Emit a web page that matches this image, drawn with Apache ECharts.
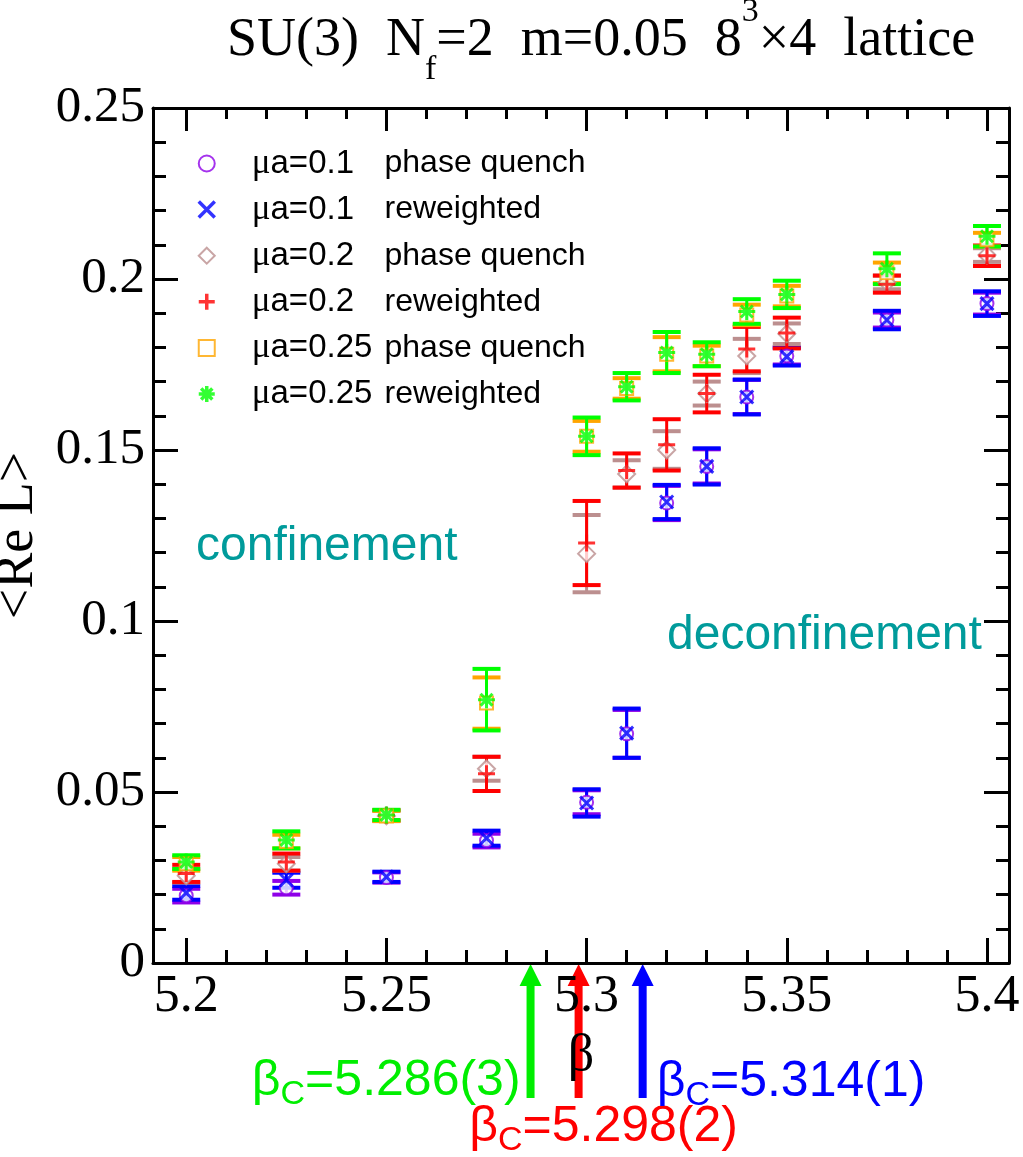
<!DOCTYPE html>
<html>
<head>
<meta charset="utf-8">
<script src="https://cdn.jsdelivr.net/npm/echarts@6/dist/echarts.min.js"></script>
<style>
html, body { margin: 0; padding: 0; background: #ffffff; }
#chart { width: 1023px; height: 1157px; }
</style>
</head>
<body>
<div id="chart"></div>
<script>
// Lattice coupling values
const beta = [5.2, 5.225, 5.25, 5.275, 5.3, 5.31, 5.32, 5.33, 5.34, 5.35, 5.375, 5.4];

// <Re L> and its errors, mu*a = 0.1
const pq01    = [0.0197, 0.0220, 0.0250, 0.0358, 0.0470, 0.0670, 0.1345, 0.1452, 0.1655, 0.1775, 0.1880, 0.1928];
const pq01Err = [0.0020, 0.0020, 0.0015, 0.0020, 0.0035, 0.0070, 0.0050, 0.0050, 0.0050, 0.0025, 0.0022, 0.0032];
const rw01    = [0.0205, 0.0242, 0.0252, 0.0365, 0.0468, 0.0672, 0.1348, 0.1452, 0.1655, 0.1773, 0.1880, 0.1928];
const rw01Err = [0.0020, 0.0022, 0.0015, 0.0022, 0.0040, 0.0072, 0.0050, 0.0053, 0.0051, 0.0026, 0.0027, 0.0036];

// mu*a = 0.2
const pq02    = [0.0255, 0.0290, 0.0430, 0.0568, 0.1197, 0.1430, 0.1500, 0.1665, 0.1775, 0.1840, 0.1990, 0.2070];
const pq02Err = [0.0020, 0.0020, 0.0015, 0.0035, 0.0113, 0.0040, 0.0055, 0.0035, 0.0050, 0.0030, 0.0020, 0.0020];
const rw02    = [0.0262, 0.0295, 0.0432, 0.0553, 0.1228, 0.1440, 0.1515, 0.1665, 0.1795, 0.1842, 0.1985, 0.2068];
const rw02Err = [0.0025, 0.0025, 0.0015, 0.0050, 0.0123, 0.0050, 0.0075, 0.0055, 0.0065, 0.0045, 0.0025, 0.0030];

// mu*a = 0.25
const pq025    = [0.0290, 0.0355, 0.0430, 0.0760, 0.1540, 0.1680, 0.1780, 0.1775, 0.1895, 0.1950, 0.2018, 0.2115];
const pq025Err = [0.0020, 0.0020, 0.0015, 0.0075, 0.0045, 0.0030, 0.0050, 0.0030, 0.0030, 0.0030, 0.0030, 0.0020];
const rw025    = [0.0295, 0.0360, 0.0433, 0.0770, 0.1540, 0.1685, 0.1785, 0.1780, 0.1905, 0.1955, 0.2030, 0.2125];
const rw025Err = [0.0020, 0.0025, 0.0015, 0.0090, 0.0055, 0.0040, 0.0060, 0.0035, 0.0036, 0.0040, 0.0045, 0.0030];

// Axis ticks
const xMajorTicks = [5.2, 5.25, 5.3, 5.35, 5.4];
const xMinorTicks = [5.2, 5.21, 5.22, 5.23, 5.24, 5.25, 5.26, 5.27, 5.28, 5.29, 5.3,
                     5.31, 5.32, 5.33, 5.34, 5.35, 5.36, 5.37, 5.38, 5.39, 5.4];
const yTicks = [0, 0.05, 0.1, 0.15, 0.2, 0.25];

// Critical couplings
const criticalBeta   = [5.286, 5.298, 5.314];
const criticalText   = ['5.286(3)', '5.298(2)', '5.314(1)'];
const criticalColors = ['#00ee00', '#ff0000', '#0000ff'];

const SERIF = '"Liberation Serif", "Times New Roman", serif';
const SANS = '"Liberation Sans", Arial, sans-serif';

const PATH_X = 'path://M0,0L10,10M10,0L0,10';
const PATH_PLUS = 'path://M5,0L5,10M0,5L10,5';
const PATH_STAR = 'path://M5,0L5,10M0,5L10,5M1.5,1.5L8.5,8.5M8.5,1.5L1.5,8.5';

const groups = [
  { name: 'μa=0.1 phase quench',  color: '#8f00e8', symbol: 'emptyCircle',  size: 13, ys: pq01,  es: pq01Err },
  { name: 'μa=0.1 reweighted',    color: '#0000ff', symbol: PATH_X,         size: 13, ys: rw01,  es: rw01Err },
  { name: 'μa=0.2 phase quench',  color: '#bc8f8f', symbol: 'emptyDiamond', size: 17, ys: pq02,  es: pq02Err },
  { name: 'μa=0.2 reweighted',    color: '#ff0000', symbol: PATH_PLUS,      size: 17, ys: rw02,  es: rw02Err },
  { name: 'μa=0.25 phase quench', color: '#ffa500', symbol: 'emptyRect',    size: 13, ys: pq025, es: pq025Err },
  { name: 'μa=0.25 reweighted',   color: '#00ff00', symbol: PATH_STAR,      size: 17, ys: rw025, es: rw025Err }
];

function errorBarSeries(g) {
  return {
    type: 'custom',
    name: g.name + ' (error)',
    xAxisIndex: 0,
    yAxisIndex: 0,
    silent: true,
    encode: { x: 0, y: [1, 2] },
    data: beta.map((b, i) => [b, g.ys[i] - g.es[i], g.ys[i] + g.es[i]]),
    renderItem: function (params, api) {
      const x = api.value(0);
      const lo = api.coord([x, api.value(1)]);
      const hi = api.coord([x, api.value(2)]);
      const hw = 14;
      return {
        type: 'group',
        children: [
          { type: 'line', shape: { x1: lo[0], y1: lo[1], x2: hi[0], y2: hi[1] },
            style: { stroke: g.color, lineWidth: 3 } },
          { type: 'line', shape: { x1: lo[0] - hw, y1: lo[1], x2: lo[0] + hw, y2: lo[1] },
            style: { stroke: g.color, lineWidth: 4 } },
          { type: 'line', shape: { x1: hi[0] - hw, y1: hi[1], x2: hi[0] + hw, y2: hi[1] },
            style: { stroke: g.color, lineWidth: 4 } }
        ]
      };
    }
  };
}

function markerSeries(g) {
  return {
    type: 'scatter',
    name: g.name,
    xAxisIndex: 0,
    yAxisIndex: 0,
    symbol: g.symbol,
    symbolSize: g.size,
    itemStyle: { color: g.color, borderColor: g.color, borderWidth: 3 },
    emphasis: { disabled: true },
    data: beta.map((b, i) => [b, g.ys[i]])
  };
}

const series = [];
groups.forEach(g => { series.push(errorBarSeries(g)); series.push(markerSeries(g)); });

const axisLineStyle = { color: '#000', width: 3 };

function xAxisDef(position, ticks, len, showLine, showLabel) {
  return {
    type: 'value',
    position: position,
    min: 5.1917,
    max: 5.4055,
    axisLine: { show: showLine, onZero: false, lineStyle: axisLineStyle },
    axisTick: { show: true, inside: true, length: len, customValues: ticks,
                lineStyle: { color: '#000', width: 3 } },
    axisLabel: showLabel
      ? { show: true, customValues: xMajorTicks, fontFamily: SERIF, fontSize: 52, color: '#000', margin: 8 }
      : { show: false },
    splitLine: { show: false }
  };
}

function yAxisDef(position, showLabel) {
  return {
    type: 'value',
    position: position,
    min: yTicks[0],
    max: yTicks[yTicks.length - 1],
    interval: 0.05,
    axisLine: { show: true, onZero: false, lineStyle: axisLineStyle },
    axisTick: { show: true, inside: true, length: 25, lineStyle: { color: '#000', width: 3 } },
    minorTick: { show: true, splitNumber: 5, length: 13, lineStyle: { color: '#000', width: 3 } },
    axisLabel: showLabel
      ? { show: true, fontFamily: SERIF, fontSize: 51, color: '#000', margin: 8 }
      : { show: false },
    splitLine: { show: false },
    minorSplitLine: { show: false }
  };
}

const xAxes = [
  Object.assign(xAxisDef('bottom', xMajorTicks, 25, true, true), {
    name: 'β', nameLocation: 'middle', nameGap: 67,
    nameTextStyle: { fontFamily: SERIF, fontSize: 52, color: '#000' }
  }),
  xAxisDef('bottom', xMinorTicks, 13, false, false),
  xAxisDef('top', xMajorTicks, 23, true, false),
  xAxisDef('top', xMinorTicks, 11, false, false)
];

const yAxes = [
  Object.assign(yAxisDef('left', true), {
    name: '<Re L>', nameLocation: 'middle', nameGap: 94, nameRotate: 90,
    nameTextStyle: { fontFamily: SERIF, fontSize: 54, color: '#000' }
  }),
  yAxisDef('right', false)
];

const chart = echarts.init(document.getElementById('chart'), null, { renderer: 'canvas' });

chart.setOption({
  backgroundColor: '#ffffff',
  animation: false,
  title: {
    left: 222,
    top: -10,
    text: '{n|SU(3)  N}{sub|f}{n|=2  m=0.05  8}{sup|3}{n|×4  lattice}',
    textStyle: {
      rich: {
        n:   { fontFamily: SERIF, fontWeight: 'normal', fontSize: 54, color: '#000', lineHeight: 92, verticalAlign: 'middle' },
        sub: { fontFamily: SERIF, fontWeight: 'normal', fontSize: 34, color: '#000', lineHeight: 34, verticalAlign: 'bottom' },
        sup: { fontFamily: SERIF, fontWeight: 'normal', fontSize: 34, color: '#000', lineHeight: 34, verticalAlign: 'top' }
      }
    }
  },
  grid: { left: 153, right: 14, top: 108, bottom: 194, containLabel: false, outerBoundsMode: 'none' },
  xAxis: xAxes,
  yAxis: yAxes,
  legend: {
    orient: 'vertical',
    left: 192,
    top: 141,
    itemWidth: 16,
    itemHeight: 16,
    itemGap: 11.1,
    selectedMode: false,
    data: groups.map(g => ({ name: g.name, itemStyle: { borderWidth: 3.5, borderColor: g.color } })),
    formatter: function (name) {
      const sp = name.indexOf(' ');
      const head = name.slice(0, sp);
      const tail = name.slice(sp + 1);
      return '{m|μ}{a|' + head.slice(1) + '}{b|' + tail + '}';
    },
    textStyle: {
      rich: {
        m: { fontFamily: SERIF, fontSize: 35, color: '#000', lineHeight: 38, padding: [0, 0, 0, 32] },
        a: { fontFamily: SANS, fontSize: 33, color: '#000', width: 114, lineHeight: 38 },
        b: { fontFamily: SANS, fontSize: 32, color: '#000', lineHeight: 38 }
      }
    }
  },
  series: series
});

// Region labels and critical-coupling arrows beneath the beta axis
function drawAnnotations() {
  const elements = [
    { type: 'text', left: 196, top: 523,
      style: { text: 'confinement', fill: '#009b9b', font: '48px ' + SANS } },
    { type: 'text', left: 667, top: 612,
      style: { text: 'deconfinement', fill: '#009b9b', font: '48px ' + SANS } }
  ];
  const labelPos = [
    { anchor: 'right', dx: -10, top: 1050 },
    { anchor: 'center', dx: 25, top: 1096 },
    { anchor: 'left', dx: 14, top: 1051 }
  ];
  criticalBeta.forEach((b, i) => {
    const tip = chart.convertToPixel({ xAxisIndex: 0, yAxisIndex: 0 }, [b, 0]);
    const x = tip[0], y = tip[1] + 1;
    const c = criticalColors[i];
    elements.push({
      type: 'polygon',
      shape: { points: [[x, y], [x + 11, y + 22], [x + 4, y + 22], [x + 4, y + 134],
                        [x - 4, y + 134], [x - 4, y + 22], [x - 11, y + 22]] },
      style: { fill: c }
    });
    const lp = labelPos[i];
    elements.push({
      type: 'text',
      x: x + lp.dx,
      y: lp.top,
      style: {
        text: '{b|β}{s|C}{b|=' + criticalText[i] + '}',
        align: lp.anchor,
        rich: {
          b: { fontFamily: SANS, fontSize: 50, fill: c, lineHeight: 62, verticalAlign: 'middle' },
          s: { fontFamily: SANS, fontSize: 34, fill: c, lineHeight: 34, verticalAlign: 'bottom' }
        }
      }
    });
  });
  chart.setOption({ graphic: { elements: elements } });
}
drawAnnotations();
</script>
</body>
</html>
